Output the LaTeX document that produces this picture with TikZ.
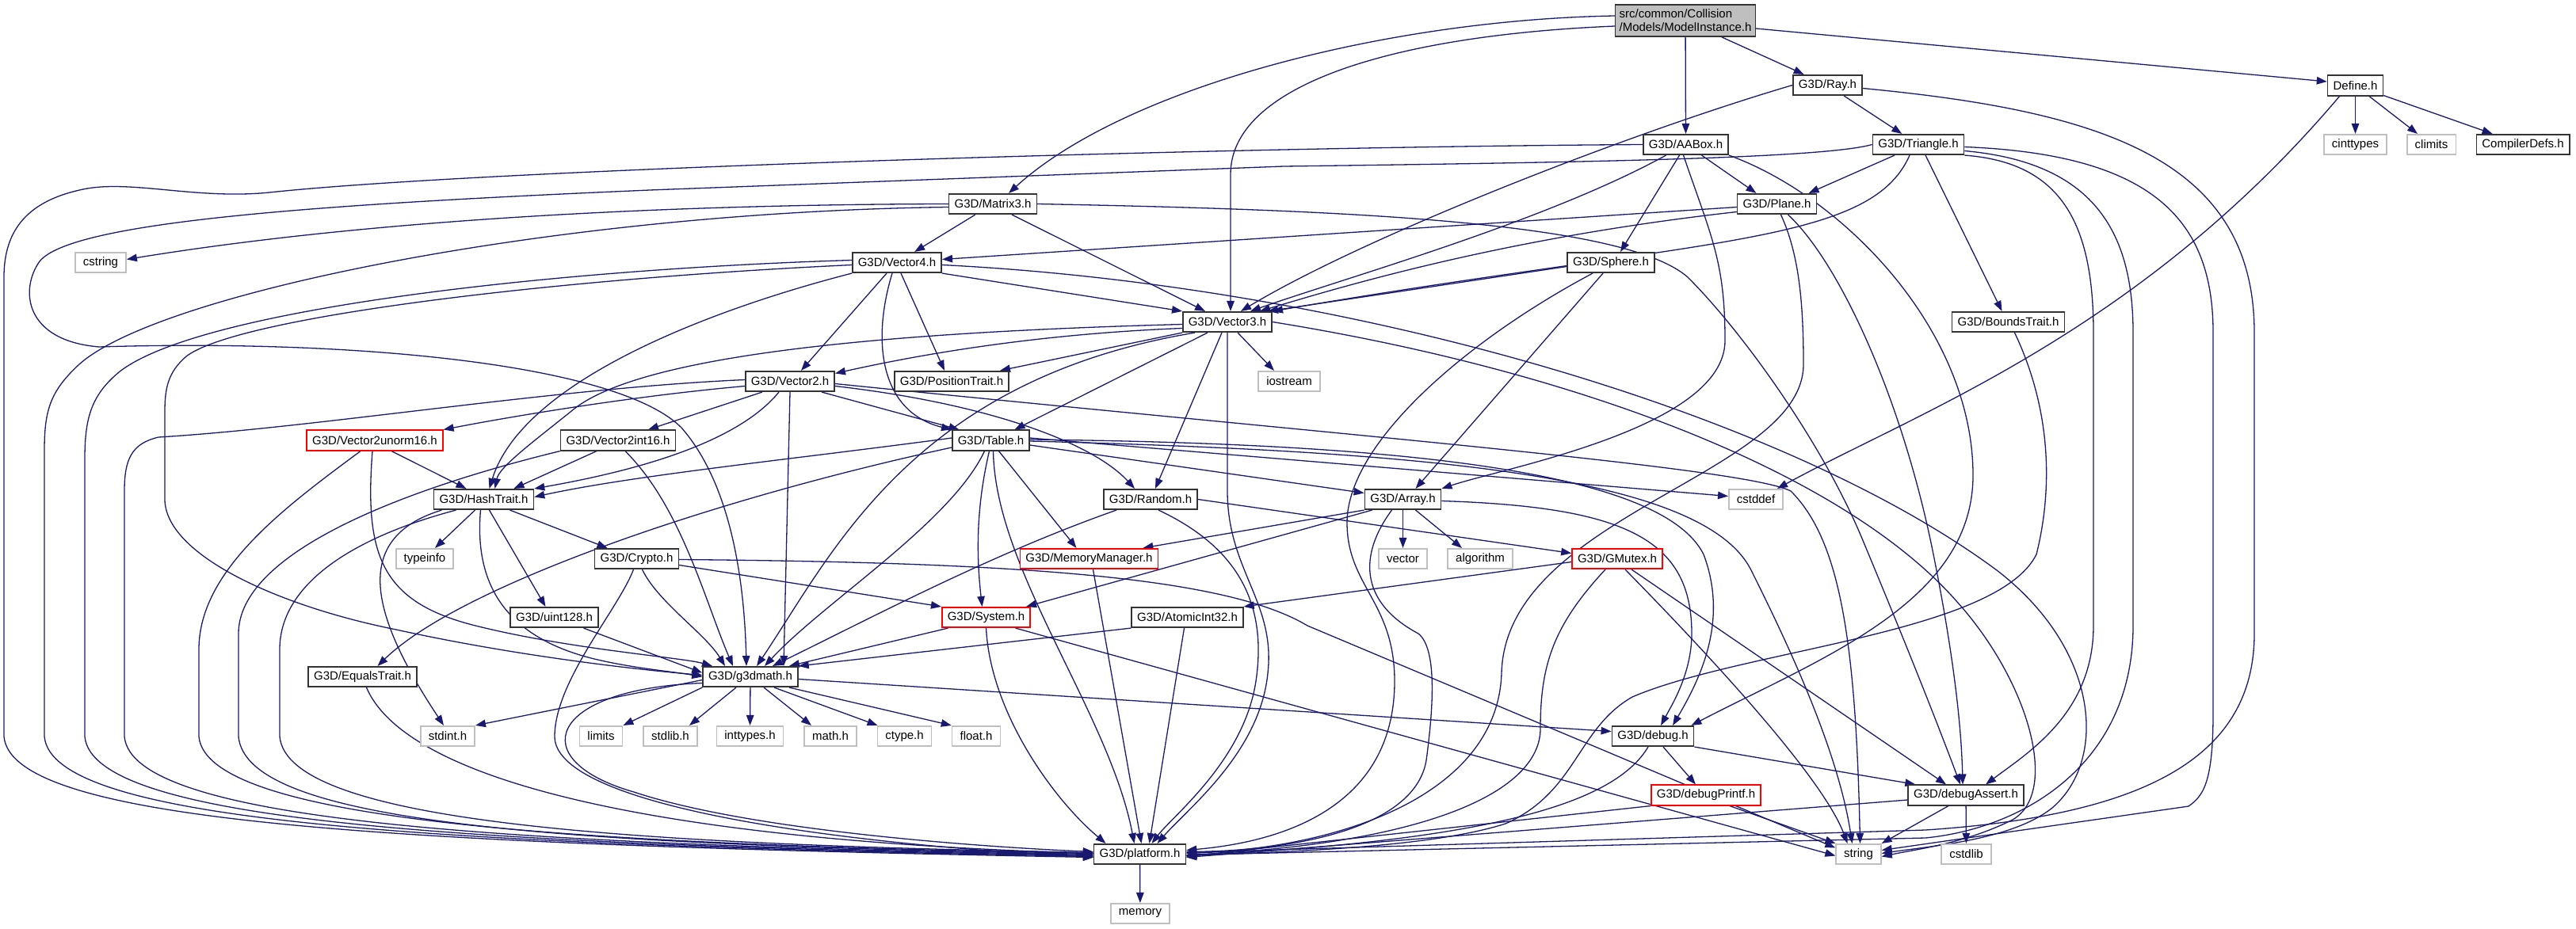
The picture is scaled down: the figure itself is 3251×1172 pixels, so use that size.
\documentclass[tikz,border=0pt]{standalone}
\usepackage{fontspec}
\setmainfont{Liberation Sans}
\usepackage{tikz}
\usetikzlibrary{arrows.meta}
\definecolor{edgeblue}{HTML}{191970}
\definecolor{boxgray}{HTML}{BFBFBF}
\definecolor{boxline}{HTML}{333333}
\pgfdeclarelayer{bg}
\pgfdeclarelayer{edges}
\pgfsetlayers{bg,edges,main}

\begin{document}
\begin{tikzpicture}[x=1pt,y=-1pt,>={Triangle[length=13pt,width=9.5pt]},
    filebox/.style={draw=boxline,line width=1.6pt,fill=white,minimum height=25.5pt,inner xsep=7pt,inner ysep=2pt,font=\fontsize{15}{17}\selectfont},
    sysbox/.style={filebox,draw=boxgray,inner xsep=10pt},
    redbox/.style={filebox,draw=red},
    incl/.style={->,draw=edgeblue,line width=1.3pt}]
  \useasboundingbox (0,0) rectangle (3251,1172);
  \begin{pgfonlayer}{bg}
    \fill[white] (0,0) rectangle (3251,1172);
  \end{pgfonlayer}

  \node[filebox,fill=boxgray,align=left,minimum height=40pt,inner xsep=5pt] (mi) at (2127,26) {src/common/Collision\\/Models/ModelInstance.h};
  \node[filebox] (ray) at (2306.5,107.5) {G3D/Ray.h};
  \node[filebox] (define) at (2972.5,108) {Define.h};
  \node[filebox] (aabox) at (2127.5,182.5) {G3D/AABox.h};
  \node[filebox] (tri) at (2421,182.5) {G3D/Triangle.h};
  \node[sysbox] (cinttypes) at (2972.5,182.5) {cinttypes};
  \node[sysbox] (climits) at (3068.5,182.5) {climits};
  \node[filebox] (compilerdefs) at (3184,182.5) {CompilerDefs.h};
  \node[sysbox] (cstring) at (127,331.5) {cstring};
  \node[filebox] (mthree) at (1253,257.5) {G3D/Matrix3.h};
  \node[filebox] (plane) at (2242.5,257.5) {G3D/Plane.h};
  \node[filebox] (vfour) at (1132,331.5) {G3D/Vector4.h};
  \node[filebox] (sphere) at (2033,331.5) {G3D/Sphere.h};
  \node[filebox] (vthree) at (1549,406.5) {G3D/Vector3.h};
  \node[filebox] (bounds) at (2534.5,406.5) {G3D/BoundsTrait.h};
  \node[filebox] (vtwo) at (997,481.5) {G3D/Vector2.h};
  \node[filebox] (postrait) at (1201,481.5) {G3D/PositionTrait.h};
  \node[sysbox] (iostream) at (1627,481.5) {iostream};
  \node[redbox] (vunorm) at (473,556) {G3D/Vector2unorm16.h};
  \node[filebox] (vint) at (780,556) {G3D/Vector2int16.h};
  \node[filebox] (table) at (1250.5,556) {G3D/Table.h};
  \node[filebox] (hash) at (610.5,630.5) {G3D/HashTrait.h};
  \node[filebox] (random) at (1452,630.5) {G3D/Random.h};
  \node[filebox] (array) at (1770.5,630.5) {G3D/Array.h};
  \node[sysbox] (cstddef) at (2216,630.5) {cstddef};
  \node[sysbox] (typeinfo) at (536,705.5) {typeinfo};
  \node[filebox] (crypto) at (803.5,705.5) {G3D/Crypto.h};
  \node[redbox] (memmgr) at (1374.5,705.5) {G3D/MemoryManager.h};
  \node[sysbox] (vector) at (1770.5,705.5) {vector};
  \node[sysbox] (algorithm) at (1868,705.5) {algorithm};
  \node[redbox] (gmutex) at (2041,705.5) {G3D/GMutex.h};
  \node[filebox] (uint) at (699.5,779.5) {G3D/uint128.h};
  \node[redbox] (system) at (1244.5,779.5) {G3D/System.h};
  \node[filebox] (atomic) at (1498.5,779.5) {G3D/AtomicInt32.h};
  \node[filebox] (equals) at (457.5,854.5) {G3D/EqualsTrait.h};
  \node[filebox] (gmath) at (947,854.5) {G3D/g3dmath.h};
  \node[sysbox] (stdint) at (565,929.5) {stdint.h};
  \node[sysbox] (limits) at (758.5,929.5) {limits};
  \node[sysbox] (stdlib) at (846,929.5) {stdlib.h};
  \node[sysbox] (inttypes) at (946.5,929.5) {inttypes.h};
  \node[sysbox] (mathh) at (1048,929.5) {math.h};
  \node[sysbox] (ctype) at (1141.5,929.5) {ctype.h};
  \node[sysbox] (float) at (1232,929.5) {float.h};
  \node[filebox] (debug) at (2086,929.5) {G3D/debug.h};
  \node[redbox] (dprintf) at (2153,1004) {G3D/debugPrintf.h};
  \node[filebox] (dassert) at (2481,1004) {G3D/debugAssert.h};
  \node[filebox] (platform) at (1438.5,1078.5) {G3D/platform.h};
  \node[sysbox] (string) at (2345.5,1078.5) {string};
  \node[sysbox] (cstdlib) at (2481.5,1078.5) {cstdlib};
  \node[sysbox] (memory) at (1439,1153.5) {memory};

  \begin{pgfonlayer}{edges}
  \draw[incl] ([yshift=6pt]mi.west) .. controls (1750,25) and (1420,110) .. ([xshift=20pt]mthree.north);
  \draw[incl] ([yshift=-7pt]mi.west) .. controls (1750,45) and (1553,110) .. (1553,220) -- ([xshift=4pt]vthree.north);
  \draw[incl] (mi) -- (aabox);
  \draw[incl] (mi) -- (ray);
  \draw[incl] ([yshift=-10pt]mi.east) -- ([yshift=5pt]define.west);

  \draw[incl] (ray.west) .. controls (2050,170) and (1720,300) .. ([xshift=-40pt]vthree.north east);
  \draw[incl] (ray) -- (tri);
  \draw[incl] ([yshift=-4pt]ray.east) .. controls (2650,140) and (2845,200) .. (2845,420) -- (2845,800) .. controls (2845,960) and (2700,1030) .. (2430,1048) -- ([yshift=2pt]platform.east);

  \draw[incl] (define) -- (cinttypes);
  \draw[incl] (define) -- (climits);
  \draw[incl] (define) -- (compilerdefs);
  \draw[incl] ([xshift=-20pt]define.south) .. controls (2700,420) and (2420,520) .. ([xshift=-8pt]cstddef.north east);

  \draw[incl] (aabox.west) .. controls (1500,186) and (600,215) .. (340,243) .. controls (250,252) and (170,228) .. (110,238) .. controls (35,252) and (5,290) .. (5,350) -- (5,930) .. controls (15,1040) and (500,1066) .. ([yshift=-4pt]platform.west);
  \draw[incl] ([xshift=-25pt]aabox.south) .. controls (1950,280) and (1700,350) .. ([xshift=-28pt]vthree.north east);
  \draw[incl] ([xshift=-8pt]aabox.south) -- ([xshift=12pt]sphere.north);
  \draw[incl] ([xshift=20pt]aabox.south) -- ([xshift=-26pt]plane.north);
  \draw[incl] ([xshift=-3pt]aabox.south) .. controls (2160,300) and (2177,330) .. (2177,430) .. controls (2177,540) and (1900,590) .. (array.north east);
  \draw[incl] (aabox.south east) .. controls (2330,250) and (2490,420) .. (2490,600) .. controls (2490,760) and (2300,830) .. ([xshift=-4pt]debug.north east);

  \draw[incl] ([xshift=-30pt]tri.south) -- ([xshift=40pt]plane.north);
  \draw[incl] ([xshift=-11pt]tri.south) .. controls (2360,310) and (2150,300) .. (vthree.north east);
  \draw[incl] ([xshift=9pt]tri.south) -- ([xshift=-8pt]bounds.north);
  \draw[incl] (tri.south east) .. controls (2600,205) and (2642,280) .. (2642,420) -- (2642,790) .. controls (2642,900) and (2560,950) .. ([xshift=25pt]dassert.north);
  \draw[incl] ([yshift=-8pt]tri.east) .. controls (2640,205) and (2692,290) .. (2692,420) -- (2692,790) .. controls (2692,960) and (2560,1045) .. (2430,1058) -- ([yshift=-1pt]platform.east);
  \draw[incl] ([yshift=-3pt]tri.east) .. controls (2720,195) and (2793,280) .. (2793,420) -- (2793,900) .. controls (2793,990) and (2780,1005) .. (2762,1018) -- ([yshift=5pt]string.east);
  \draw[incl] (tri.west) .. controls (2300,200) and (2000,205) .. (1620,210) -- (820,240) .. controls (400,258) and (90,280) .. (50,330) .. controls (25,365) and (30,430) .. (125,438) .. controls (450,428) and (780,460) .. (860,540) .. controls (930,620) and (940,760) .. ([xshift=-5pt]gmath.north);

  \draw[incl] (mthree.west) .. controls (900,258) and (500,272) .. ([yshift=4pt]cstring.east);
  \draw[incl] ([yshift=-4pt]mthree.west) .. controls (700,268) and (200,370) .. (100,460) .. controls (62,495) and (56,520) .. (56,570) -- (56,930) .. controls (66,1040) and (550,1066) .. ([yshift=-3pt]platform.west);
  \draw[incl] (mthree) -- (vfour);
  \draw[incl] ([xshift=24pt]mthree.south) -- ([xshift=-28pt]vthree.north);
  \draw[incl] (mthree.east) .. controls (1700,265) and (2050,280) .. (2130,350) .. controls (2200,420) and (2300,560) .. (2350,680) .. controls (2400,800) and (2440,900) .. ([xshift=-7pt]dassert.north);

  \draw[incl] ([xshift=-13pt]vfour.south) -- ([xshift=14pt]vtwo.north);
  \draw[incl] ([xshift=5pt]vfour.south) -- ([xshift=-9pt]postrait.north);
  \draw[incl] ([xshift=-6pt]vfour.south) .. controls (1100,430) and (1110,520) .. (table.north west);
  \draw[incl] (vfour.south west) .. controls (900,390) and (660,480) .. ([xshift=7pt]hash.north);
  \draw[incl] (vfour.south east) -- (vthree.north west);
  \draw[incl] ([yshift=3pt]vfour.west) .. controls (700,340) and (250,390) .. (150,470) .. controls (114,500) and (107,530) .. (107,580) -- (107,930) .. controls (117,1040) and (600,1066) .. ([yshift=-2pt]platform.west);
  \draw[incl] ([yshift=-3pt]vfour.west) .. controls (700,352) and (300,400) .. (235,450) .. controls (212,470) and (208,490) .. (208,520) -- (208,630) .. controls (208,700) and (350,765) .. (500,795) .. controls (650,828) and (800,845) .. ([yshift=2pt]gmath.west);
  \draw[incl] ([yshift=-3pt]vfour.east) .. controls (1700,360) and (2250,520) .. (2520,720) .. controls (2650,820) and (2660,960) .. (2590,1020) .. controls (2540,1060) and (2440,1068) .. ([yshift=1pt]string.east);

  \draw[incl] ([yshift=-3pt]vthree.west) .. controls (1100,420) and (800,450) .. (720,520) .. controls (670,560) and (630,590) .. ([xshift=14pt]hash.north);
  \draw[incl] ([yshift=-8pt]vthree.west) .. controls (1300,422) and (1150,450) .. ([yshift=10pt]vtwo.east);
  \draw[incl] (vthree.south west) -- ([xshift=-12pt]postrait.north east);
  \draw[incl] ([xshift=-41pt]vthree.south) .. controls (1150,480) and (1050,700) .. ([xshift=8pt]gmath.north);
  \draw[incl] ([xshift=-25pt]vthree.south) -- ([xshift=30pt]table.north);
  \draw[incl] ([xshift=-7pt]vthree.south) -- ([xshift=6pt]random.north);
  \draw[incl] ([xshift=13pt]vthree.south) -- ([xshift=-19pt]iostream.north);
  \draw[incl] (vthree.south) -- (1549,620) .. controls (1549,720) and (1610,760) .. (1600,850) .. controls (1590,950) and (1500,1020) .. ([xshift=22pt]platform.north);
  \draw[incl] (vthree.east) .. controls (2000,470) and (2330,600) .. (2470,760) .. controls (2560,860) and (2600,1000) .. (2540,1035) .. controls (2480,1065) and (2420,1072) .. ([yshift=-3pt]string.east);

  \draw[incl] ([yshift=-6pt]vtwo.west) .. controls (800,500) and (650,525) .. (vunorm.north east);
  \draw[incl] ([yshift=2pt]vtwo.west) .. controls (700,490) and (400,540) .. (200,552) .. controls (166,560) and (157,580) .. (157,620) -- (157,930) .. controls (167,1040) and (650,1066) .. ([yshift=-1pt]platform.west);
  \draw[incl] ([xshift=-35pt]vtwo.south) -- ([xshift=38pt]vint.north);
  \draw[incl] ([xshift=-14pt]vtwo.south) .. controls (930,560) and (800,595) .. (hash.north east);
  \draw[incl] (vtwo.south) -- ([xshift=42pt]gmath.north);
  \draw[incl] ([xshift=40pt]vtwo.south) -- ([xshift=-40pt]table.north);
  \draw[incl] ([yshift=-6pt]vtwo.east) .. controls (1250,510) and (1380,560) .. ([xshift=-20pt]random.north);
  \draw[incl] ([yshift=-3pt]vtwo.east) .. controls (1700,550) and (2200,590) .. (2260,620) .. controls (2320,680) and (2342,800) .. ([xshift=2pt]string.north);

  \draw[incl] ([xshift=-27pt]vint.south) -- ([xshift=38pt]hash.north);
  \draw[incl] (vint.south west) .. controls (500,620) and (301,700) .. (301,800) -- (301,930) .. controls (311,1040) and (700,1066) .. (platform.west);
  \draw[incl] ([xshift=9pt]vint.south) .. controls (860,640) and (890,760) .. ([xshift=-22pt]gmath.north);

  \draw[incl] ([xshift=21pt]vunorm.south) -- ([xshift=-22pt]hash.north);
  \draw[incl] ([xshift=-18pt]vunorm.south) .. controls (360,640) and (251,720) .. (251,820) -- (251,930) .. controls (261,1040) and (750,1066) .. ([yshift=1pt]platform.west);
  \draw[incl] ([xshift=-3pt]vunorm.south) .. controls (460,700) and (480,760) .. (600,790) .. controls (720,820) and (860,830) .. ([xshift=-48pt]gmath.north);

  \draw[incl] ([xshift=-11pt]hash.south) -- ([xshift=13pt]typeinfo.north);
  \draw[incl] ([xshift=33pt]hash.south) -- ([xshift=-37pt]crypto.north);
  \draw[incl] ([xshift=7pt]hash.south) -- ([xshift=-11pt]uint.north);
  \draw[incl] ([xshift=-53pt]hash.south) .. controls (440,680) and (470,780) .. ([xshift=-5pt]stdint.north);
  \draw[incl] ([xshift=-35pt]hash.south) .. controls (440,680) and (353,740) .. (353,820) -- (353,930) .. controls (363,1040) and (800,1066) .. ([yshift=2pt]platform.west);
  \draw[incl] ([xshift=-4pt]hash.south) .. controls (598,740) and (640,805) .. (750,832) .. controls (800,844) and (850,848) .. (gmath.west);

  \draw[incl] ([yshift=-8pt]crypto.east) -- (system.north west);
  \draw[incl] ([yshift=-1pt]crypto.east) .. controls (1300,710) and (1550,730) .. (1650,790) -- ([yshift=8pt]string.west);
  \draw[incl] ([xshift=7pt]crypto.south) .. controls (830,760) and (890,800) .. ([xshift=-32pt]gmath.north);
  \draw[incl] ([xshift=-4pt]crypto.south) .. controls (780,770) and (700,860) .. (700,930) .. controls (700,1010) and (1000,1062) .. ([yshift=-4pt]platform.west);
  \draw[incl] ([xshift=37pt]uint.south) -- ([yshift=5pt]gmath.west);

  \draw[incl] ([yshift=-6pt]table.east) -- ([yshift=8pt]array.west);
  \draw[incl] ([xshift=10pt]table.south) -- ([xshift=-16pt]memmgr.north);
  \draw[incl] ([xshift=-2pt]table.south) .. controls (1232,640) and (1232,700) .. ([xshift=-5pt]system.north);
  \draw[incl] ([xshift=3pt]table.south) .. controls (1256,720) and (1400,900) .. ([xshift=-7pt]platform.north);
  \draw[incl] ([xshift=-8pt]table.south) .. controls (1200,660) and (1040,760) .. ([xshift=18pt]gmath.north);
  \draw[incl] ([yshift=3pt]table.west) .. controls (1000,580) and (800,600) .. ([yshift=3pt]hash.east);
  \draw[incl] ([yshift=-9pt]table.west) .. controls (900,630) and (580,740) .. ([xshift=19pt]equals.north);
  \draw[incl] ([yshift=1pt]table.east) .. controls (1800,560) and (2100,600) .. (2150,700) .. controls (2180,780) and (2150,850) .. ([xshift=25pt]debug.north);
  \draw[incl] ([yshift=3pt]table.east) -- ([yshift=4pt]cstddef.west);
  \draw[incl] ([yshift=-1pt]table.east) .. controls (1800,570) and (2150,600) .. (2210,720) .. controls (2260,820) and (2320,950) .. ([xshift=-8pt]string.north);

  \draw[incl] (random.east) -- ([yshift=7pt]gmutex.west);
  \draw[incl] ([xshift=-43pt]random.south) .. controls (1250,700) and (1100,780) .. ([xshift=28pt]gmath.north);
  \draw[incl] ([xshift=10pt]random.south) .. controls (1560,690) and (1600,760) .. (1585,860) .. controls (1570,960) and (1480,1030) .. ([xshift=15pt]platform.north);

  \draw[incl] (array) -- (vector);
  \draw[incl] ([xshift=16pt]array.south) -- ([xshift=-23pt]algorithm.north);
  \draw[incl] (array.south west) -- ([xshift=-20pt]memmgr.north east);
  \draw[incl] ([xshift=10pt]array.south west) -- ([xshift=-6pt]system.north east);
  \draw[incl] ([xshift=-14pt]array.south) .. controls (1715,700) and (1715,760) .. (1790,800) .. controls (1815,820) and (1808,900) .. (1800,960) .. controls (1785,1050) and (1620,1074) .. ([yshift=3pt]platform.east);
  \draw[incl] ([yshift=-2pt]array.east) .. controls (2050,640) and (2135,680) .. (2135,800) .. controls (2135,850) and (2110,890) .. ([xshift=10pt]debug.north);

  \draw[incl] ([yshift=-5pt]sphere.west) -- ([xshift=-6pt]vthree.north east);
  \draw[incl] ([xshift=-23pt]sphere.south) .. controls (1850,430) and (1700,560) .. (1700,660) .. controls (1700,740) and (1760,760) .. (1760,860) .. controls (1760,1000) and (1650,1060) .. ([yshift=5pt]platform.east);
  \draw[incl] ([xshift=-10pt]sphere.south) -- ([xshift=16pt]array.north);

  \draw[incl] ([yshift=-4pt]plane.west) -- ([yshift=4pt]vfour.east);
  \draw[incl] ([yshift=-10pt]plane.west) .. controls (1900,300) and (1700,360) .. ([xshift=-16pt]vthree.north east);
  \draw[incl] ([xshift=5pt]plane.south) .. controls (2270,320) and (2276,380) .. (2276,460) .. controls (2276,600) and (1900,650) .. (1895,850) .. controls (1890,1000) and (1700,1070) .. ([yshift=1pt]platform.east);
  \draw[incl] ([xshift=14pt]plane.south) .. controls (2320,330) and (2400,500) .. (2440,700) .. controls (2460,800) and (2475,900) .. ([xshift=-4pt]dassert.north);

  \draw[incl] ([xshift=8pt]bounds.south) .. controls (2590,520) and (2590,620) .. (2570,700) .. controls (2520,800) and (2200,820) .. (2060,880) .. controls (1990,920) and (1990,1000) .. (1900,1040) .. controls (1800,1072) and (1600,1076) .. ([yshift=-2pt]platform.east);

  \draw[incl] ([yshift=-4pt]gmutex.west) -- (atomic.north east);
  \draw[incl] ([xshift=-15pt]gmutex.south) .. controls (1960,790) and (1944,840) .. (1944,920) .. controls (1944,1000) and (1800,1065) .. ([yshift=-1pt]platform.east);
  \draw[incl] ([xshift=10pt]gmutex.south) .. controls (2150,820) and (2300,980) .. ([xshift=-14pt]string.north);
  \draw[incl] ([xshift=18pt]gmutex.south) -- ([xshift=-25pt]dassert.north);

  \draw[incl] ([xshift=-4pt]atomic.south) -- ([xshift=12pt]platform.north);
  \draw[incl] (atomic.south west) -- (gmath.north east);
  \draw[incl] ([xshift=-48pt]system.south) -- ([xshift=49pt]gmath.north);
  \draw[incl] (system.south) .. controls (1250,900) and (1330,1010) .. ([xshift=-43pt]platform.north);
  \draw[incl] ([xshift=37pt]system.south) -- ([yshift=-2pt]string.west);
  \draw[incl] ([xshift=5pt]memmgr.south) -- ([xshift=2pt]platform.north);
  \draw[incl] ([xshift=5pt]equals.south) .. controls (510,980) and (800,1060) .. ([yshift=1pt]platform.west);

  \draw[incl] ([yshift=-4pt]gmath.west) -- (stdint.north east);
  \draw[incl] (gmath.south west) -- (limits.north east);
  \draw[incl] ([xshift=-18pt]gmath.south) -- ([xshift=24pt]stdlib.north);
  \draw[incl] (gmath) -- (inttypes);
  \draw[incl] ([xshift=17pt]gmath.south) -- ([xshift=-24pt]mathh.north);
  \draw[incl] ([xshift=30pt]gmath.south) -- ([xshift=-34pt]ctype.north);
  \draw[incl] ([xshift=49pt]gmath.south) -- (float.north west);
  \draw[incl] ([yshift=-3pt]gmath.east) -- ([yshift=6pt]debug.west);
  \draw[incl] ([yshift=-8pt]gmath.west) .. controls (690,870) and (660,960) .. (800,1000) .. controls (950,1050) and (1250,1070) .. ([yshift=3pt]platform.west);

  \draw[incl] ([xshift=13pt]debug.south) -- ([xshift=-13pt]dprintf.north);
  \draw[incl] (debug.south east) -- ([xshift=10pt]dassert.north west);
  \draw[incl] ([xshift=-6pt]debug.south) .. controls (2040,1010) and (1900,1060) .. ([yshift=-2pt]platform.east);
  \draw[incl] (dprintf.south west) -- ([yshift=-3pt]platform.east);
  \draw[incl] ([xshift=30pt]dprintf.south) -- (string.north west);
  \draw[incl] ([yshift=-6pt]dassert.west) -- ([yshift=-4pt]platform.east);
  \draw[incl] ([xshift=-22pt]dassert.south) -- (string.north east);
  \draw[incl] (dassert) -- (cstdlib);
  \draw[incl] (platform) -- (memory);
  \end{pgfonlayer}
\end{tikzpicture}
\end{document}
